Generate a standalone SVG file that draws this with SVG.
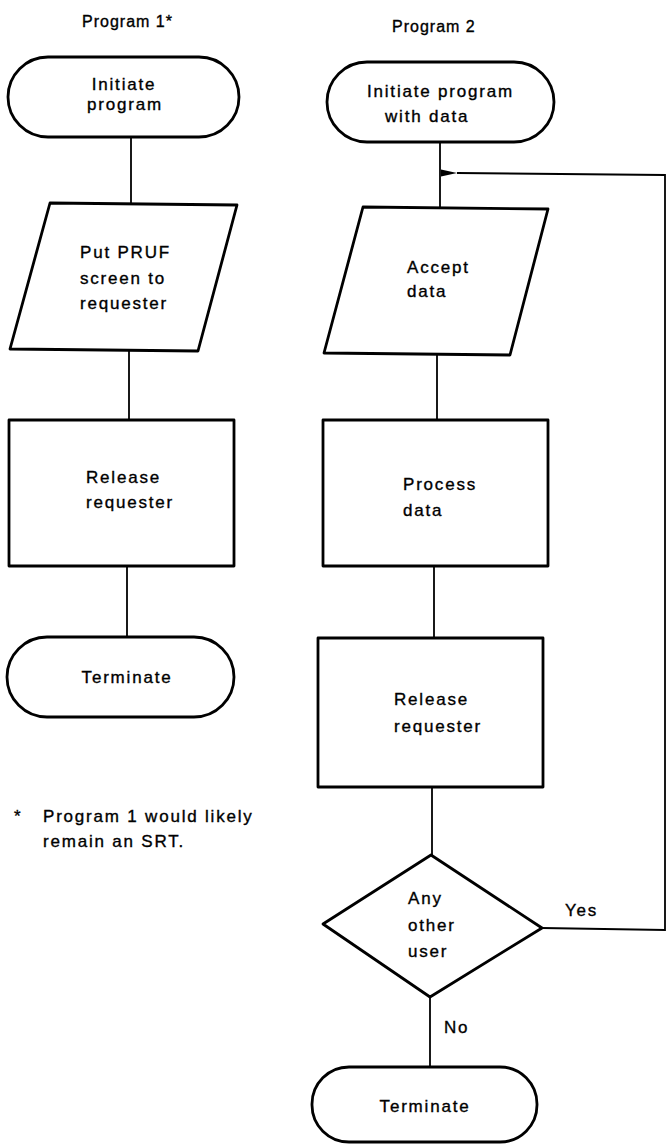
<svg xmlns="http://www.w3.org/2000/svg" width="667" height="1144" viewBox="0 0 667 1144">
  <style>
    .shape { fill: #ffffff; stroke: #000000; stroke-width: 2.8; stroke-linejoin: round; }
    .link { fill: none; stroke: #000000; stroke-width: 1.8; }
    text { font-family: "Liberation Sans", Arial, sans-serif; font-size: 17px; letter-spacing: 1.8px; fill: #000000; stroke: #000000; stroke-width: 0.35px; }
    .title { font-size: 16px; letter-spacing: 1px; }
    .mid { text-anchor: middle; }
  </style>
  <defs>
    <marker id="arrow" viewBox="0 0 16 8" refX="0" refY="4" markerWidth="16" markerHeight="8" markerUnits="userSpaceOnUse" orient="auto">
      <path d="M0,4 L16,0.5 L16,7.5 Z" fill="#000000"/>
    </marker>
  </defs>

  <!-- column headings -->
  <text class="title" x="82" y="27">Program 1*</text>
  <text class="title" x="392" y="32">Program 2</text>

  <!-- connectors -->
  <g id="connectors">
    <line class="link" x1="131" y1="137" x2="131" y2="203"/>
    <line class="link" x1="129" y1="350" x2="129" y2="420"/>
    <line class="link" x1="127" y1="566" x2="127" y2="637"/>

    <line class="link" x1="440" y1="142" x2="440" y2="207"/>
    <line class="link" x1="437" y1="354" x2="437" y2="420"/>
    <line class="link" x1="434" y1="566" x2="434" y2="638"/>
    <line class="link" x1="432" y1="787" x2="432" y2="855"/>
    <line class="link" x1="430" y1="997" x2="430" y2="1067"/>
    <!-- "Yes" loop back to the input step -->
    <polyline class="link" points="542,928 665,930 665,175 457,173"/>
    <line class="link" x1="458" y1="173" x2="457" y2="173" marker-end="url(#arrow)"/>
  </g>

  <!-- Program 1 -->
  <g id="p1-start">
    <rect class="shape" x="8" y="57" width="231" height="80" rx="40" ry="40"/>
    <text class="mid" x="124" y="90">Initiate</text>
    <text class="mid" x="125" y="110">program</text>
  </g>
  <g id="p1-put-screen">
    <polygon class="shape" points="50,203 237,205 198,351 10,349"/>
    <text x="80" y="258">Put PRUF</text>
    <text x="80" y="284">screen to</text>
    <text x="80" y="309">requester</text>
  </g>
  <g id="p1-release">
    <rect class="shape" x="9" y="420" width="225" height="146"/>
    <text x="86" y="483">Release</text>
    <text x="86" y="508">requester</text>
  </g>
  <g id="p1-end">
    <rect class="shape" x="7" y="637" width="227" height="80" rx="40" ry="40"/>
    <text class="mid" x="127" y="683">Terminate</text>
  </g>

  <!-- footnote -->
  <g id="footnote">
    <text x="14" y="822">*</text>
    <text x="43" y="822">Program 1 would likely</text>
    <text x="43" y="847">remain an SRT.</text>
  </g>

  <!-- Program 2 -->
  <g id="p2-start">
    <rect class="shape" x="327" y="62" width="227" height="80" rx="40" ry="40"/>
    <text x="367" y="97">Initiate program</text>
    <text x="385" y="122">with data</text>
  </g>
  <g id="p2-accept">
    <polygon class="shape" points="363,207 548,209 510,355 324,353"/>
    <text x="407" y="273">Accept</text>
    <text x="407" y="297">data</text>
  </g>
  <g id="p2-process">
    <rect class="shape" x="323" y="420" width="225" height="146"/>
    <text x="403" y="490">Process</text>
    <text x="403" y="516">data</text>
  </g>
  <g id="p2-release">
    <rect class="shape" x="318" y="638" width="225" height="149"/>
    <text x="394" y="705">Release</text>
    <text x="394" y="732">requester</text>
  </g>
  <g id="p2-decision">
    <polygon class="shape" points="431,855 542,928 430,997 323,924"/>
    <text x="408" y="904">Any</text>
    <text x="408" y="931">other</text>
    <text x="408" y="957">user</text>
  </g>
  <text x="565" y="916">Yes</text>
  <text x="444" y="1033">No</text>
  <g id="p2-end">
    <rect class="shape" x="312" y="1067" width="225" height="75" rx="37" ry="37"/>
    <text class="mid" x="425" y="1112">Terminate</text>
  </g>
</svg>
